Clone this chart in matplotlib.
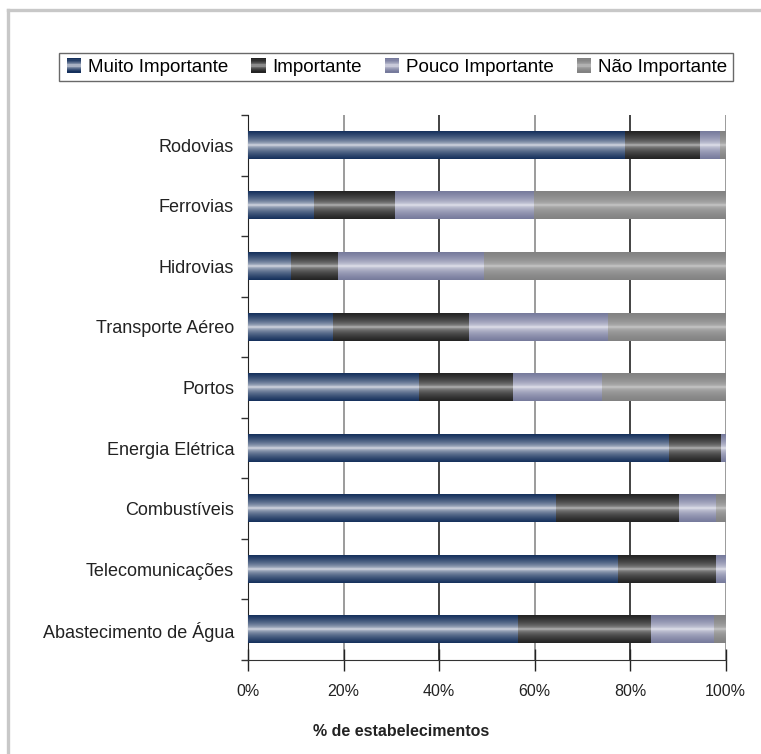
import numpy as np
import matplotlib
matplotlib.use("Agg")
import matplotlib.pyplot as plt
from matplotlib.patches import Rectangle
from matplotlib.legend_handler import HandlerBase
from matplotlib.lines import Line2D

plt.rcParams['font.family'] = ['Liberation Sans', 'DejaVu Sans']

# data (% de estabelecimentos)
categorias = ["Rodovias", "Ferrovias", "Hidrovias", "Transporte Aéreo", "Portos",
              "Energia Elétrica", "Combustíveis", "Telecomunicações",
              "Abastecimento de Água"]
muito = [78.9, 13.8, 8.9, 17.7, 35.8, 88.1, 64.5, 77.4, 56.5]
importante = [15.7, 16.9, 9.9, 28.6, 19.6, 10.9, 25.7, 20.6, 27.8]
pouco = [4.2, 29.1, 30.6, 29.0, 18.7, 1.0, 7.8, 2.0, 13.3]
nao = [1.2, 40.2, 50.6, 24.7, 25.9, 0.0, 2.0, 0.0, 2.4]
series_nomes = ["Muito Importante", "Importante", "Pouco Importante", "Não Importante"]
xticks = [0, 20, 40, 60, 80, 100]

# (edge colour, centre colour, sharpness) of the shaded bars
cores = [("#15305c", "#f4f4f8", 0.45), ("#232323", "#ececec", 0.3),
         ("#767a9c", "#f2f2f8", 0.45), ("#828282", "#f4f4f4", 0.22)]


def grad_img(edge, centre, k, n=64):
    e = np.array(matplotlib.colors.to_rgb(edge))
    c = np.array(matplotlib.colors.to_rgb(centre))
    t = np.abs(np.linspace(-1, 1, n))
    w = np.clip(t, 0, 1) ** k
    return (c[None, :] * (1 - w[:, None]) + e[None, :] * w[:, None])[:, None, :]


class GradHandler(HandlerBase):
    def __init__(self, edge, centre, k):
        super().__init__()
        self.edge, self.centre, self.k = edge, centre, k

    def create_artists(self, legend, orig_handle, xdescent, ydescent, width, height, fontsize, trans):
        img = grad_img(self.edge, self.centre, self.k, 12)[:, 0, :]
        arts = []
        side = height * 1.0
        x0 = -xdescent + (width - side) / 2
        for i in range(12):
            r = Rectangle((x0, -ydescent + side * i / 12), side, side / 12 + 0.05,
                          facecolor=img[i], edgecolor='none', transform=trans)
            arts.append(r)
        return arts


fig = plt.figure(figsize=(7.61, 7.54), dpi=100)
ax = fig.add_axes([0.3259, 0.1247, 0.6275, 0.7228])

y = np.arange(len(categorias))
left = np.zeros(len(categorias))
handles = []
for vals, nome, (ec, cc, k) in zip([muito, importante, pouco, nao], series_nomes, cores):
    bars = ax.barh(y, vals, left=left, height=0.45, color=ec, label=nome, zorder=2)
    for p in bars.patches:
        if p.get_width() <= 0:
            continue
        x0, y0 = p.get_x(), p.get_y()
        ax.imshow(grad_img(ec, cc, k), extent=[x0, x0 + p.get_width(), y0 + p.get_height(), y0],
                  aspect='auto', interpolation='bilinear', zorder=3)
    handles.append(bars)
    left = left + np.array(vals)

ax.set_xlim(0, 100)
ax.set_ylim(len(categorias) - 0.5, -0.5)

gcol = ["#222222", "#8a8a8a", "#222222", "#8a8a8a", "#222222", "#8a8a8a"]
for xt, c in zip(xticks, gcol):
    ax.axvline(xt, color=c, lw=1.2, zorder=1)

ax.set_xticks(xticks)
ax.set_xticklabels([f"{v}%" for v in xticks], fontsize=11.5, color="#222222")
ax.tick_params(axis='x', direction='inout', length=16, width=1, color="#222222", pad=9)
ax.set_yticks(y)
ax.set_yticklabels(categorias, fontsize=13, color="#222222")
ax.set_yticks(np.arange(len(categorias) + 1) - 0.5, minor=True)
ax.tick_params(axis='y', which='major', length=0, pad=10)
ax.tick_params(axis='y', which='minor', length=5, width=1, color="#333333", direction='out')

for s in ['top', 'right']:
    ax.spines[s].set_visible(False)
ax.spines['left'].set_color("#222222")
ax.spines['bottom'].set_color("#333333")

fig.text(401 / 761, 1 - 731 / 754, "% de estabelecimentos", ha='center', va='center',
         fontsize=11.5, fontweight='bold', color="#222222")

hmap = {h: GradHandler(ec, cc, k) for h, (ec, cc, k) in zip(handles, cores)}
leg = fig.legend(handles, series_nomes, loc='center', bbox_to_anchor=(396 / 761, 1 - 67 / 754),
                 ncol=4, fontsize=13.5, frameon=True, fancybox=False, edgecolor="#444444",
                 handlelength=1.0, handleheight=0.8, handletextpad=0.25,
                 columnspacing=1.1, borderpad=0.3, handler_map=hmap)
leg.get_frame().set_linewidth(1.0)

# light grey frame (top and left edges visible)
fig.add_artist(Line2D([8 / 761, 1], [1 - 10 / 754, 1 - 10 / 754], color="#c8c8c8", lw=2.4,
                      transform=fig.transFigure))
fig.add_artist(Line2D([8 / 761, 8 / 761], [0, 1 - 10 / 754], color="#c8c8c8", lw=2.4,
                      transform=fig.transFigure))

fig.savefig("out.png", dpi=100)
